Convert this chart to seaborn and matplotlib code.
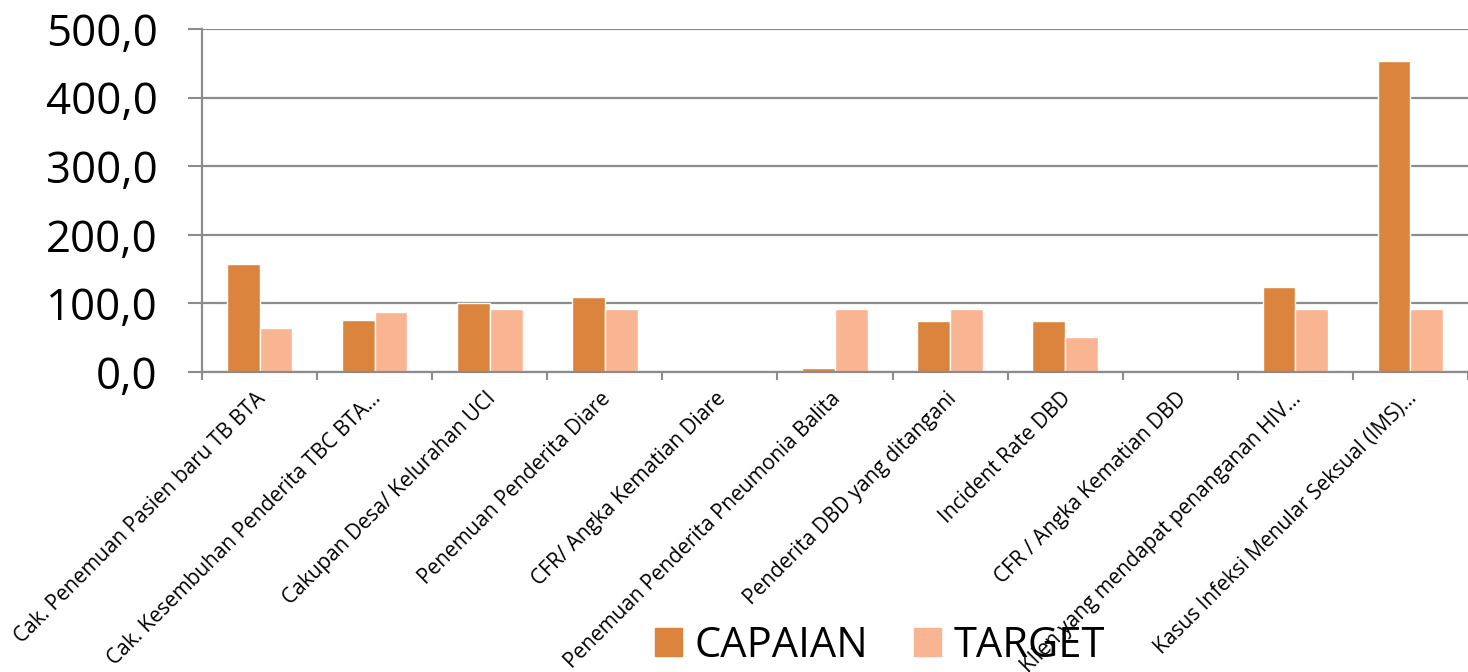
import matplotlib
matplotlib.use("Agg")
import matplotlib.pyplot as plt
import matplotlib.transforms as mtransforms
from matplotlib.ticker import FuncFormatter, FixedLocator
import seaborn as sns
import pandas as pd

categories = [
    "Cak. Penemuan Pasien baru TB BTA",
    "Cak. Kesembuhan Penderita TBC BTA...",
    "Cakupan Desa/ Kelurahan UCI",
    "Penemuan Penderita Diare",
    "CFR/ Angka Kematian Diare",
    "Penemuan Penderita Pneumonia Balita",
    "Penderita DBD yang ditangani",
    "Incident Rate DBD",
    "CFR / Angka Kematian DBD",
    "Klien yang mendapat penanganan HIV...",
    "Kasus Infeksi Menular Seksual (IMS)...",
]
capaian = [157.0, 76.0, 100.5, 109.0, 0.0, 6.0, 74.5, 74.5, 0.0, 124.0, 454.0]
target = [64.0, 87.0, 92.0, 92.0, 0.0, 92.0, 92.0, 51.0, 0.0, 92.0, 92.0]
series_names = ["CAPAIAN", "TARGET"]
colors = ["#DA843E", "#F9B592"]

df = pd.DataFrame({
    "kategori": categories * 2,
    "nilai": capaian + target,
    "seri": [series_names[0]] * len(categories) + [series_names[1]] * len(categories),
})

sns.set_theme(style="white")
plt.rcParams["font.family"] = ["Open Sans", "DejaVu Sans"]
plt.rcParams["text.color"] = "black"
plt.rcParams["xtick.color"] = "black"
plt.rcParams["ytick.color"] = "black"

fig = plt.figure(figsize=(14.68, 6.72), dpi=100)
ax = fig.add_axes([0.1376, 0.4464, 0.8624, 0.5104])

sns.barplot(data=df, x="kategori", y="nilai", hue="seri", palette=colors,
            width=0.57, saturation=1, ax=ax, legend=True)

ax.set_ylim(0, 500)
ax.set_xlim(-0.5, len(categories) - 0.5)
ax.set_yticks([0, 100, 200, 300, 400, 500])
ax.yaxis.set_major_formatter(FuncFormatter(lambda v, p: f"{v:.1f}".replace(".", ",")))
ax.tick_params(axis="y", labelsize=31.5, length=10, width=1.5, color="#8c8c8c",
               direction="out", left=True, pad=22, labelcolor="black")
ax.yaxis.grid(True, color="#8c8c8c", linewidth=1.6)
ax.set_axisbelow(True)

for s in ["top", "right"]:
    ax.spines[s].set_visible(False)
for s in ["left", "bottom"]:
    ax.spines[s].set_color("#8c8c8c")
    ax.spines[s].set_linewidth(1.6)

ax.set_xlabel("")
ax.set_ylabel("")
ax.xaxis.set_minor_locator(FixedLocator([i - 0.5 for i in range(len(categories) + 1)]))
ax.tick_params(axis="x", which="minor", length=6, width=1.5, color="#8c8c8c", bottom=True)
ax.tick_params(axis="x", which="major", length=0, pad=17, labelsize=15, labelcolor="black")
ax.set_xticks(range(len(categories)))
ax.set_xticklabels(categories, rotation=45, ha="right", va="center", rotation_mode="anchor")
offset = mtransforms.ScaledTranslation(0.03, 0, fig.dpi_scale_trans)
for lab in ax.get_xticklabels():
    lab.set_transform(lab.get_transform() + offset)

leg = ax.get_legend()
if leg is not None:
    leg.remove()
handles = [plt.Rectangle((0, 0), 1, 1, color=c) for c in colors]
fig.legend(handles, series_names, loc="center", bbox_to_anchor=(880 / 1468, 1 - 646 / 672),
           ncol=2, frameon=False, fontsize=30, handlelength=0.65, handleheight=0.65,
           handletextpad=0.3, columnspacing=1.1, labelcolor="black")

fig.savefig("out.png", dpi=100)
